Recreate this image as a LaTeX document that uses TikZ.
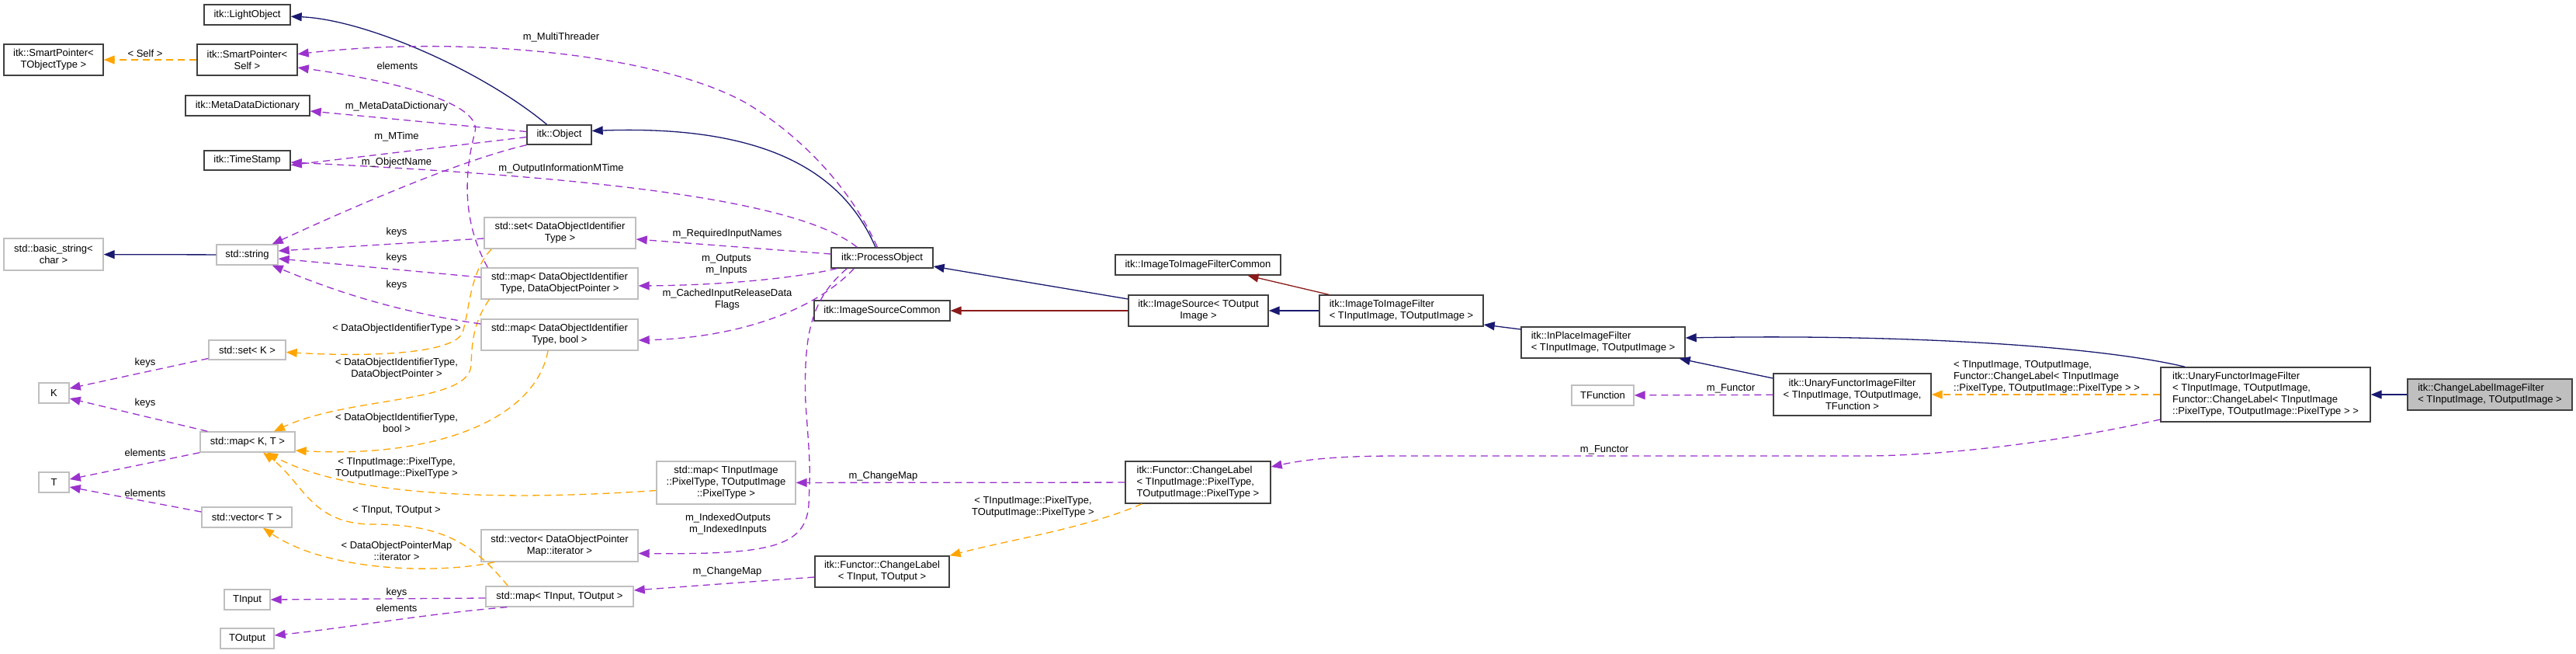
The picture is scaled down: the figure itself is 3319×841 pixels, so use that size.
\documentclass[tikz,border=0pt]{standalone}
\usepackage{fontspec}
\setmainfont{Liberation Sans}
\usepackage{xcolor}
\usepackage{tikz}
\usetikzlibrary{arrows.meta,positioning}

\definecolor{inhblue}{HTML}{191970}
\definecolor{protred}{HTML}{8B1A1A}
\definecolor{usepurple}{HTML}{9A32CD}
\definecolor{tmplorange}{HTML}{FFA500}
\definecolor{boxdark}{HTML}{404040}
\definecolor{boxlight}{HTML}{BFBFBF}
\newcommand{\dxfont}{\fontsize{13}{15}\selectfont}

\begin{document}
\begin{tikzpicture}[x=1pt, y=-1pt,
    cls/.style={rectangle, draw=boxdark, line width=1.4pt, fill=white, inner sep=0pt, align=center, font=\dxfont},
    ext/.style={cls, draw=boxlight},
    wh/.style 2 args={minimum width=#1pt, minimum height=#2pt},
    lbl/.style={font=\dxfont, align=center, inner sep=0pt},
    inherit/.style={-{Triangle[length=14pt,width=11pt]}, draw=inhblue, line width=1.3pt},
    protinherit/.style={inherit, draw=protred},
    member/.style={-{Triangle[length=14pt,width=11pt]}, draw=usepurple, line width=1.3pt, dash pattern=on 9pt off 6pt},
    templ/.style={member, draw=tmplorange}
]
    \path[use as bounding box, fill=white] (0,0) rectangle (3319,841);

    % Left column: helpers and template parameters
    \node[cls, wh={111}{26}] (light) at (318.5,19) {itk::LightObject};
    \node[cls, wh={128}{40}] (spobj) at (69,77) {itk::SmartPointer<\\TObjectType >};
    \node[cls, wh={129}{40}] (spself) at (318.5,77) {itk::SmartPointer<\\Self >};
    \node[cls, wh={160}{26}] (meta) at (319,136) {itk::MetaDataDictionary};
    \node[cls, wh={111}{25}] (tstamp) at (318.5,206.5) {itk::TimeStamp};
    \node[ext, wh={128}{41}] (bstr) at (69,327.5) {std::basic\_string<\\char >};
    \node[ext, wh={79}{26}] (str) at (318.5,328) {std::string};
    \node[ext, wh={99}{25}] (setk) at (318.5,450.5) {std::set< K >};
    \node[ext, wh={39}{26}] (K) at (69.5,506) {K};
    \node[ext, wh={122}{26}] (mapkt) at (319,569) {std::map< K, T >};
    \node[ext, wh={39}{26}] (T) at (69.5,621) {T};
    \node[ext, wh={116}{26}] (vect) at (318,666) {std::vector< T >};
    \node[ext, wh={59}{26}] (tin) at (318.5,772) {TInput};
    \node[ext, wh={69}{26}] (tout) at (318.5,822) {TOutput};

    % Middle: object and containers
    \node[cls, wh={83}{25}] (obj) at (720.5,173.5) {itk::Object};
    \node[ext, wh={195}{40}] (setdoi) at (721.5,300) {std::set< DataObjectIdentifier\\Type >};
    \node[ext, wh={202}{40}] (mapdop) at (721,365) {std::map< DataObjectIdentifier\\Type, DataObjectPointer >};
    \node[ext, wh={202}{40}] (mapbool) at (721,431) {std::map< DataObjectIdentifier\\Type, bool >};
    \node[ext, wh={179}{55}] (mappix) at (935.5,621.5) {std::map< TInputImage\\::PixelType, TOutputImage\\::PixelType >};
    \node[ext, wh={202}{41}] (vecdop) at (721,702.5) {std::vector< DataObjectPointer\\Map::iterator >};
    \node[ext, wh={190}{26}] (mapio) at (721,768) {std::map< TInput, TOutput >};
    \node[cls, wh={131}{26}] (procobj) at (1136.5,332) {itk::ProcessObject};
    \node[cls, wh={175}{26}] (isrccommon) at (1136.5,400) {itk::ImageSourceCommon};
    \node[cls, wh={173}{40}] (clio) at (1136.5,736) {itk::Functor::ChangeLabel\\< TInput, TOutput >};

    % Right: filter hierarchy
    \node[cls, wh={213}{26}] (itifcommon) at (1543.5,341) {itk::ImageToImageFilterCommon};
    \node[cls, wh={180}{40}] (isrc) at (1544,400) {itk::ImageSource< TOutput\\Image >};
    \node[cls, wh={187}{54}, align=left] (clpix) at (1543.5,621) {itk::Functor::ChangeLabel\\< TInputImage::PixelType,\\TOutputImage::PixelType >};
    \node[cls, wh={211}{40}, align=left] (itif) at (1805.5,400) {itk::ImageToImageFilter\\< TInputImage, TOutputImage >};
    \node[cls, wh={211}{40}, align=left] (inplace) at (2065.5,441) {itk::InPlaceImageFilter\\< TInputImage, TOutputImage >};
    \node[ext, wh={80}{26}] (tfunc) at (2065,509) {TFunction};
    \node[cls, wh={203}{54}] (ufunc) at (2386.5,508) {itk::UnaryFunctorImageFilter\\< TInputImage, TOutputImage,\\TFunction >};
    \node[cls, wh={270}{70}, align=left] (ufcl) at (2919,508) {itk::UnaryFunctorImageFilter\\< TInputImage, TOutputImage,\\Functor::ChangeLabel< TInputImage\\::PixelType, TOutputImage::PixelType > >};
    \node[cls, wh={212}{40}, align=left, fill=boxlight] (clfilter) at (3208,508) {itk::ChangeLabelImageFilter\\< TInputImage, TOutputImage >};

    % Inheritance
    \draw[inherit] (obj) .. controls (620,90) and (470,25) .. (light);
    \draw[inherit] (str) -- (bstr);
    \draw[inherit] ([xshift=-8.5pt]procobj.north) .. controls (1090,230) and (1000,160) .. ([yshift=5pt]obj.east);
    \draw[inherit] ([yshift=15pt]isrc.west) -- ([yshift=-11pt]procobj.east);
    \draw[protinherit] (isrc) -- (isrccommon);
    \draw[inherit] (itif) -- (isrc);
    \draw[protinherit] ([xshift=13pt]itif.north west) -- ([xshift=64pt]itifcommon.south);
    \draw[inherit] ([yshift=17pt]inplace.west) -- ([yshift=-18pt]itif.east);
    \draw[inherit] ([yshift=21pt]ufunc.west) -- ([xshift=-8pt]inplace.south east);
    \draw[inherit] ([xshift=32pt]ufcl.north west) .. controls (2700,445) and (2450,430) .. ([yshift=6pt]inplace.east);
    \draw[inherit] (clfilter) -- (ufcl);

    % Template instances
    \draw[templ] (spself) -- (spobj);
    \draw[templ] ([xshift=10pt]setdoi.south west) .. controls (605,350) and (605,400) .. (596,428) .. controls (585,455) and (480,460) .. ([yshift=-3pt]setk.east);
    \draw[templ] ([xshift=11pt]mapdop.south west) .. controls (610,415) and (608,440) .. (607,470) .. controls (605,520) and (450,510) .. ([xshift=34pt]mapkt.north);
    \draw[templ] ([xshift=-15pt]mapbool.south) .. controls (690,540) and (560,590) .. ([yshift=-11pt]mapkt.east);
    \draw[templ] ([yshift=-10pt]mappix.west) .. controls (650,645) and (450,640) .. ([xshift=25pt]mapkt.south);
    \draw[templ] ([xshift=29pt]mapio.north west) .. controls (610,700) and (570,675) .. (480,675) .. controls (400,675) and (390,620) .. ([xshift=20pt]mapkt.south);
    \draw[templ] ([xshift=18pt]vecdop.south west) .. controls (560,740) and (420,735) .. ([xshift=21pt]vect.south);
    \draw[templ] ([xshift=22pt]clpix.south west) .. controls (1400,680) and (1300,695) .. (clio.north east);
    \draw[templ] (ufcl) -- (ufunc);

    % Members
    \draw[member] (procobj) .. controls (1100,250) and (1040,180) .. (962,133) .. controls (850,70) and (600,45) .. (spself);
    \draw[member] ([xshift=9pt]mapdop.north west) .. controls (598,290) and (596,230) .. (612,170) .. controls (622,128) and (480,100) .. ([yshift=-10pt]spself.east);
    \draw[member] ([yshift=4pt]obj.west) -- ([yshift=-7pt]meta.east);
    \draw[member] ([yshift=-3pt]obj.west) -- ([yshift=-6pt]tstamp.east);
    \draw[member] ([xshift=34pt]procobj.north west) .. controls (1020,250) and (700,225) .. ([yshift=-2.5pt]tstamp.east);
    \draw[member] (obj.south west) .. controls (600,205) and (480,255) .. ([xshift=-8pt]str.north east);
    \draw[member] ([yshift=-7pt]setdoi.west) -- ([yshift=5pt]str.east);
    \draw[member] ([yshift=8pt]mapdop.west) -- ([yshift=-5pt]str.east);
    \draw[member] ([yshift=14pt]mapbool.west) .. controls (500,400) and (420,370) .. ([xshift=-8pt]str.south east);
    \draw[member] ([yshift=5pt]procobj.west) -- ([yshift=-8pt]setdoi.east);
    \draw[member] ([xshift=8pt]procobj.south west) .. controls (1040,355) and (950,367) .. ([yshift=-3pt]mapdop.east);
    \draw[member] ([xshift=30pt]procobj.south west) .. controls (1050,400) and (950,435) .. ([yshift=-7pt]mapbool.east);
    \draw[member] ([xshift=21pt]procobj.south west) .. controls (1045,385) and (1035,430) .. (1038,520) .. controls (1044,600) .. (1042,650) .. controls (1038,705) and (990,714) .. ([yshift=-10pt]vecdop.east);
    \draw[member] ([yshift=-32pt]ufcl.west) .. controls (2650,570) and (2500,587) .. (2400,587) -- (1800,587) .. controls (1720,587) and (1680,592) .. ([yshift=20pt]clpix.east);
    \draw[member] (ufunc) -- (tfunc);
    \draw[member] (clpix) -- (mappix);
    \draw[member] ([yshift=-7pt]clio.west) -- ([yshift=8pt]mapio.east);
    \draw[member] ([yshift=-2pt]mapio.west) -- (tin.east);
    \draw[member] ([xshift=28pt]mapio.south west) .. controls (550,790) and (450,808) .. ([yshift=4pt]tout.east);
    \draw[member] ([yshift=-11pt]setk.west) -- ([yshift=6pt]K.east);
    \draw[member] ([xshift=10pt]mapkt.north west) -- ([yshift=-7pt]K.east);
    \draw[member] (mapkt.south west) -- ([yshift=4pt]T.east);
    \draw[member] ([yshift=7pt]vect.west) -- ([yshift=-6pt]T.east);

    % Edge labels
    \node[lbl] (lself) at (187,69) {< Self >};
    \node[lbl] (lmt) at (723,48) {m\_MultiThreader};
    \node[lbl] (lelem1) at (512,85) {elements};
    \node[lbl] (lmdd) at (511,137) {m\_MetaDataDictionary};
    \node[lbl] (lmtime) at (511,176) {m\_MTime};
    \node[lbl] (lname) at (511,209) {m\_ObjectName};
    \node[lbl] (loimt) at (723,217) {m\_OutputInformationMTime};
    \node[lbl] (lkeys1) at (511,299) {keys};
    \node[lbl] (lkeys2) at (511,332) {keys};
    \node[lbl] (lkeys3) at (511,367) {keys};
    \node[lbl] (ldoit) at (511,423) {< DataObjectIdentifierType >};
    \node[lbl] (lreq) at (937,301) {m\_RequiredInputNames};
    \node[lbl] (lio) at (936,341) {m\_Outputs\\m\_Inputs};
    \node[lbl] (lcache) at (937,386) {m\_CachedInputReleaseData\\Flags};
    \node[lbl] (lkeys4) at (187,467) {keys};
    \node[lbl] (lkeys5) at (187,519) {keys};
    \node[lbl] (lelem2) at (187,583) {elements};
    \node[lbl] (lelem3) at (187,635) {elements};
    \node[lbl] (ldop) at (511,475) {< DataObjectIdentifierType,\\DataObjectPointer >};
    \node[lbl] (lbool) at (511,544) {< DataObjectIdentifierType,\\bool >};
    \node[lbl] (lpix1) at (511,603) {< TInputImage::PixelType,\\TOutputImage::PixelType >};
    \node[lbl] (ltio) at (511,657) {< TInput, TOutput >};
    \node[lbl] (ldopm) at (511,709) {< DataObjectPointerMap\\::iterator >};
    \node[lbl] (lkeys6) at (511,763) {keys};
    \node[lbl] (lelem4) at (511,783) {elements};
    \node[lbl] (lcm1) at (1138,613) {m\_ChangeMap};
    \node[lbl] (lidx) at (938,675) {m\_IndexedOutputs\\m\_IndexedInputs};
    \node[lbl] (lcm2) at (937,736) {m\_ChangeMap};
    \node[lbl] (lpix2) at (1331,653) {< TInputImage::PixelType,\\TOutputImage::PixelType >};
    \node[lbl] (lfun1) at (2230,500) {m\_Functor};
    \node[lbl] (lfun2) at (2067,579) {m\_Functor};
    \node[lbl, align=left] (lufcl) at (2637,485) {< TInputImage, TOutputImage,\\Functor::ChangeLabel< TInputImage\\::PixelType, TOutputImage::PixelType > >};
\end{tikzpicture}
\end{document}
